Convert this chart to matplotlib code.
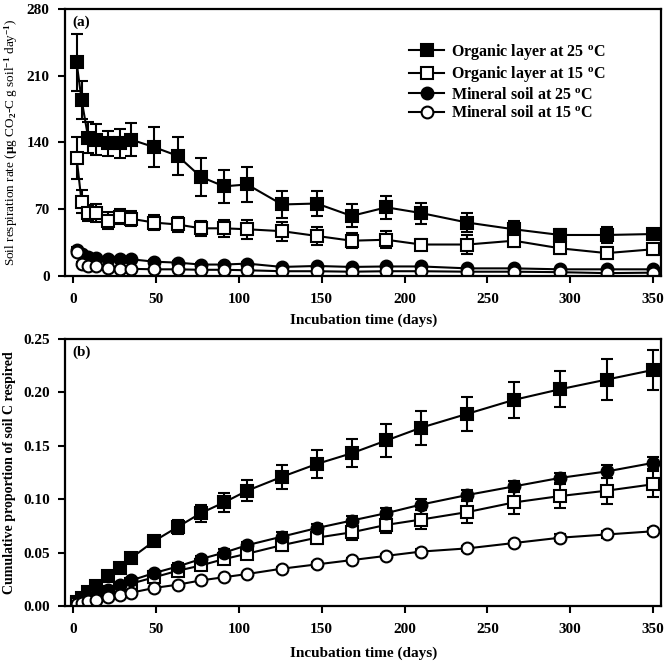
import matplotlib.pyplot as plt
import matplotlib
from matplotlib.lines import Line2D

matplotlib.rc('font', family='Liberation Serif', weight='bold', size=11)
matplotlib.rcParams['axes.labelweight'] = 'bold'
matplotlib.rcParams['mathtext.fontset'] = 'custom'
matplotlib.rcParams['mathtext.rm'] = 'Liberation Serif:bold'
matplotlib.rcParams['mathtext.it'] = 'Liberation Serif:bold'
matplotlib.rcParams['mathtext.bf'] = 'Liberation Serif:bold'

days = [2, 5, 9, 14, 21, 28, 35, 49, 63, 77, 91, 105, 126, 147, 168, 189, 210, 238, 266, 294, 322, 350]

# (a) respiration rate
org25 = [224, 185, 145, 143, 139, 139, 143, 135, 126, 104, 94, 96, 75, 76, 63, 72, 66, 56, 49, 43, 43, 44]
org25_err = [30, 20, 16, 16, 13, 15, 17, 21, 20, 20, 17, 18, 14, 13, 12, 12, 11, 10, 9, 6, 8, 5]
org15 = [124, 78, 66, 66, 58, 62, 60, 56, 54, 50, 50, 49, 47, 42, 37, 38, 33, 33, 37, 29, 24, 28]
org15_err = [22, 12, 8, 9, 9, 8, 8, 8, 8, 8, 9, 10, 10, 9, 8, 9, 6, 10, 7, 6, 6, 6]
min25 = [27, 23, 20, 19, 18, 17.5, 17.5, 15, 14, 12, 12, 13, 9.5, 10.5, 9.5, 10, 10, 8, 8, 7, 7, 7]
min25_err = [3, 2, 2, 2, 2, 2, 2, 2, 2, 2, 2, 2, 1.5, 1.5, 1.5, 1.5, 1.5, 1.5, 1.5, 1.5, 1.5, 1.5]
min15 = [25, 13, 11, 11, 8, 7.5, 7.5, 7, 7, 6.5, 6.5, 6, 5, 5, 4.5, 5, 5, 4.5, 4.5, 4, 3, 3.5]
min15_err = [2, 1.5, 1, 1, 1, 1, 1, 1, 1, 1, 1, 1, 1, 1, 1, 1, 1, 1, 1, 1, 1, 1]

# (b) cumulative proportion respired
cum_org25 = [0.004, 0.008, 0.013, 0.019, 0.028, 0.036, 0.045, 0.061, 0.074, 0.087, 0.097, 0.108,
             0.121, 0.133, 0.143, 0.155, 0.167, 0.180, 0.193, 0.203, 0.212, 0.221]
cum_org25_err = [0.001, 0.001, 0.002, 0.002, 0.003, 0.003, 0.004, 0.005, 0.007, 0.008, 0.009, 0.010,
                 0.011, 0.013, 0.013, 0.015, 0.016, 0.016, 0.017, 0.017, 0.019, 0.019]
cum_org15 = [0.0015, 0.003, 0.006, 0.009, 0.013, 0.017, 0.021, 0.027, 0.033, 0.038, 0.044, 0.049,
             0.057, 0.064, 0.069, 0.076, 0.081, 0.088, 0.097, 0.103, 0.108, 0.114]
cum_org15_err = [0.001, 0.001, 0.001, 0.001, 0.002, 0.002, 0.002, 0.003, 0.003, 0.004, 0.004, 0.005,
                 0.005, 0.006, 0.007, 0.008, 0.009, 0.010, 0.011, 0.011, 0.012, 0.012]
cum_min25 = [0.002, 0.004, 0.007, 0.010, 0.015, 0.020, 0.024, 0.031, 0.037, 0.044, 0.050, 0.057,
             0.065, 0.073, 0.080, 0.087, 0.095, 0.104, 0.112, 0.120, 0.126, 0.134]
cum_min25_err = [0.001, 0.001, 0.001, 0.001, 0.001, 0.002, 0.002, 0.002, 0.003, 0.003, 0.003, 0.003,
                 0.004, 0.004, 0.004, 0.005, 0.005, 0.005, 0.005, 0.005, 0.006, 0.006]
cum_min15 = [0.0016, 0.003, 0.0044, 0.006, 0.0084, 0.010, 0.0125, 0.017, 0.020, 0.024, 0.027, 0.030,
             0.035, 0.039, 0.043, 0.047, 0.051, 0.054, 0.059, 0.064, 0.067, 0.070]
cum_min15_err = [0.0005, 0.0005, 0.0005, 0.0005, 0.001, 0.001, 0.001, 0.001, 0.001, 0.001, 0.001, 0.001,
                 0.002, 0.002, 0.002, 0.002, 0.002, 0.002, 0.002, 0.003, 0.003, 0.003]

labels = [r'Organic layer at 25 $^{\mathrm{o}}$C', r'Organic layer at 15 $^{\mathrm{o}}$C',
          r'Mineral soil at 25 $^{\mathrm{o}}$C', r'Mineral soil at 15 $^{\mathrm{o}}$C']
styles = [('s', 'black'), ('s', 'white'), ('o', 'black'), ('o', 'white')]

fig = plt.figure(figsize=(6.7, 6.66), dpi=100)
ax1 = fig.add_axes([0.097, 0.5856, 0.89, 0.4009])
ax2 = fig.add_axes([0.097, 0.09, 0.89, 0.401])


def draw(ax, series):
    for (y, e), (m, fc) in zip(series, styles):
        ax.errorbar(days, y, yerr=e, color='black', marker=m, mfc=fc, mec='black', mew=1.5,
                    ms=8.5, lw=1.5, elinewidth=1.5, capsize=4, capthick=1.5)
    ax.set_xlim(-5, 355)
    ax.set_xticks([0, 50, 100, 150, 200, 250, 300, 350])
    for s in ax.spines.values():
        s.set_linewidth(1.6)
    ax.tick_params(direction='out', length=5, width=1.5, labelsize=11, top=False, right=False)
    ax.tick_params(axis='x', pad=7)
    ax.tick_params(axis='y', pad=6)


draw(ax1, [(org25, org25_err), (org15, org15_err), (min25, min25_err), (min15, min15_err)])
ax1.set_ylim(0, 280)
ax1.set_yticks([0, 70, 140, 210, 280])
ax1.set_xlabel('Incubation time (days)', fontsize=11, labelpad=6)
ax1.set_ylabel(r'Soil respiration rate ($\mu$g CO$_2$-C g soil$^{-1}$ day$^{-1}$)',
               fontsize=9.5, fontweight='normal', labelpad=5)
ax1.text(0.012, 0.975, '(a)', transform=ax1.transAxes, ha='left', va='top', fontsize=11)
handles = [Line2D([], [], color='black', lw=1.5, marker=m, mfc=fc, mec='black', mew=1.5, ms=8.5)
           for m, fc in styles]
ax1.legend(handles, labels, loc='upper right', bbox_to_anchor=(0.93, 0.93), frameon=False,
           fontsize=11.5, handlelength=2.2, handletextpad=0.4, labelspacing=0.15)

draw(ax2, [(cum_org25, cum_org25_err), (cum_org15, cum_org15_err),
           (cum_min25, cum_min25_err), (cum_min15, cum_min15_err)])
ax2.set_ylim(0, 0.25)
ax2.set_yticks([0.0, 0.05, 0.10, 0.15, 0.20, 0.25])
ax2.set_yticklabels(['0.00', '0.05', '0.10', '0.15', '0.20', '0.25'])
ax2.set_xlabel('Incubation time (days)', fontsize=11, labelpad=8)
ax2.set_ylabel('Cumulative proportion of soil C respired', fontsize=10, labelpad=5)
ax2.text(0.012, 0.975, '(b)', transform=ax2.transAxes, ha='left', va='top', fontsize=11)

fig.savefig('out.png', dpi=100)
